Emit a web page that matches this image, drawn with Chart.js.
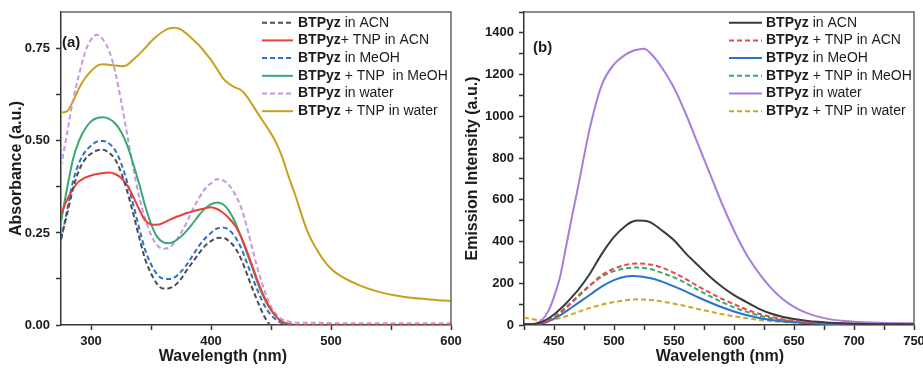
<!DOCTYPE html>
<html>
<head>
<meta charset="utf-8">
<script src="https://cdn.jsdelivr.net/npm/chart.js@4.4.0/dist/chart.umd.min.js"></script>
<style>
  body { margin: 0; background: #fff; }
  #wrap { position: relative; width: 923px; height: 368px; overflow: hidden; }
  #uv { position: absolute; left: 0; top: 0; }
  #fl { position: absolute; left: 460px; top: 0; }
</style>
</head>
<body>
<div id="wrap">
  <canvas id="uv" width="466" height="368"></canvas>
  <canvas id="fl" width="463" height="368"></canvas>
</div>
<script>
// ---- (a) absorbance data ----
const uvWavelength = [275,280,285,290,295,300,305,310,315,320,325,330,335,340,345,350,355,360,365,370,375,380,385,390,395,400,405,410,415,420,425,430,435,440,445,450,455,460,465,470,480,490,500,520,540,560,580,600];
const uvAcn      = [.235,.30,.37,.42,.45,.465,.474,.476,.468,.45,.415,.365,.305,.24,.18,.14,.112,.099,.10,.108,.125,.15,.172,.195,.215,.228,.236,.237,.228,.21,.18,.138,.095,.055,.02,0,0,0,0,0,0,0,0,0,0,0,0,0];
const uvAcnTnp   = [.30,.34,.37,.39,.40,.406,.41,.413,.414,.41,.40,.38,.35,.315,.285,.273,.272,.277,.285,.292,.298,.304,.309,.313,.317,.32,.315,.305,.29,.27,.24,.20,.155,.11,.072,.042,.02,.007,.002,0,0,0,0,0,0,0,0,0];
const uvMeoh     = [.23,.31,.39,.44,.47,.487,.498,.50,.493,.475,.44,.39,.33,.265,.205,.165,.138,.126,.125,.13,.145,.165,.19,.215,.235,.25,.262,.265,.258,.24,.21,.168,.125,.085,.05,.027,.012,.004,.001,0,0,0,0,0,0,0,0,0];
const uvMeohTnp  = [.28,.37,.45,.50,.532,.553,.562,.564,.56,.548,.525,.49,.44,.385,.325,.275,.24,.225,.222,.228,.24,.257,.277,.298,.316,.328,.333,.328,.31,.28,.24,.195,.15,.105,.068,.04,.02,.008,.002,0,0,0,0,0,0,0,0,0];
const uvWater    = [.43,.52,.61,.68,.74,.775,.788,.775,.745,.69,.61,.52,.43,.35,.29,.245,.217,.207,.21,.225,.25,.28,.315,.345,.37,.385,.396,.393,.38,.355,.32,.265,.20,.14,.09,.05,.027,.014,.009,.007,.006,.006,.005,.005,.005,.005,.005,.005];
const uvWaterTnp = [.577,.58,.607,.643,.67,.689,.704,.708,.707,.705,.703,.706,.72,.735,.752,.77,.785,.797,.805,.807,.802,.79,.775,.76,.74,.72,.695,.67,.655,.645,.638,.62,.595,.57,.545,.52,.49,.45,.40,.355,.257,.195,.153,.113,.09,.077,.07,.065];
const uvLabels = ['BTPyz in ACN', 'BTPyz+ TNP in ACN', 'BTPyz in MeOH', 'BTPyz + TNP  in MeOH', 'BTPyz in water', 'BTPyz + TNP in water'];
const uvXTicks = [300, 400, 500, 600];
const uvYTicks = [0, 0.25, 0.5, 0.75];

// ---- (b) emission data ----
const flWavelength = [425,430,435,440,445,450,455,460,465,470,480,490,500,510,515,520,525,530,540,550,560,570,580,590,600,610,620,630,640,650,660,670,680,700,720,750];
const flAcn      = [3,4,6,15,30,50,75,103,135,167,247,342,422,477,495,501,500,493,453,406,342,286,231,183,143,111,80,56,40,29,21,15,11,6,4,3];
const flAcnTnp   = [2,3,5,10,20,35,55,80,108,135,190,240,270,288,293,295,294,290,275,250,220,185,155,125,100,75,55,40,28,20,14,10,8,5,3,2];
const flMeoh     = [2,3,4,8,17,30,46,65,85,105,145,185,215,232,235,234,230,225,208,185,160,133,108,85,65,48,35,25,18,13,9,7,5,3,2,1];
const flMeohTnp  = [2,3,5,10,22,38,60,85,112,140,190,232,258,272,275,275,273,268,250,228,200,168,138,110,85,64,47,34,24,17,12,9,7,4,3,2];
const flWater    = [5,5,8,24,64,135,230,374,520,660,947,1153,1249,1297,1312,1320,1324,1305,1233,1137,1010,867,724,581,453,342,255,183,127,87,59,40,27,16,11,8];
const flWaterTnp = [35,30,25,22,23,27,33,42,52,62,82,98,110,119,122,123,122,120,113,102,90,77,64,52,42,33,25,19,15,12,10,9,8,7,6,5];
const flLabels = ['BTPyz in ACN', 'BTPyz + TNP in ACN', 'BTPyz in MeOH', 'BTPyz + TNP in MeOH', 'BTPyz in water', 'BTPyz + TNP in water'];
const flXTicks = [450, 500, 550, 600, 650, 700, 750];
const flYTicks = [0, 200, 400, 600, 800, 1000, 1200, 1400];

const FONT = '"Liberation Sans", Arial, sans-serif';
const INK = '#1c1c1c';
Chart.defaults.font.family = FONT;
Chart.defaults.color = INK;

function pts(xs, ys) {
  return xs.map((x, i) => ({ x: x, y: ys[i] }));
}

function line(label, xs, ys, color, dashed) {
  return {
    label: label,
    data: pts(xs, ys),
    borderColor: color,
    borderWidth: 2,
    borderDash: dashed ? [5, 3] : [],
    pointRadius: 0,
    fill: false,
    cubicInterpolationMode: 'monotone'
  };
}

function near(list, v) {
  return list.some(t => Math.abs(t - v) < 1e-6);
}

// frame, legend with bold name, panel tag and x title
const decor = {
  id: 'decor',
  afterDraw(chart, args, o) {
    const ctx = chart.ctx, a = chart.chartArea;
    ctx.save();
    ctx.strokeStyle = '#666';
    ctx.lineWidth = 1.5;
    ctx.beginPath();
    ctx.moveTo(a.left, a.top);
    ctx.lineTo(a.right, a.top);
    ctx.lineTo(a.right, a.bottom);
    ctx.stroke();

    chart.data.datasets.forEach((ds, i) => {
      const y = o.y0 + i * o.dy;
      ctx.strokeStyle = ds.borderColor;
      ctx.lineWidth = 2;
      ctx.setLineDash(ds.borderDash);
      ctx.beginPath();
      ctx.moveTo(o.x0, y);
      ctx.lineTo(o.x1, y);
      ctx.stroke();
      ctx.setLineDash([]);
      ctx.fillStyle = INK;
      ctx.textAlign = 'left';
      ctx.textBaseline = 'middle';
      ctx.font = 'bold 14px ' + FONT;
      ctx.fillText('BTPyz', o.tx, y);
      const w = ctx.measureText('BTPyz').width;
      ctx.font = '14px ' + FONT;
      ctx.fillText(ds.label.slice(5), o.tx + w, y);
    });

    ctx.font = 'bold 15px ' + FONT;
    ctx.fillText(o.panel, o.px, o.py);

    ctx.textAlign = 'center';
    ctx.font = 'bold 16px ' + FONT;
    ctx.fillText(o.xTitle, o.xtx, o.xty);
    ctx.restore();
  }
};

const axisLine = { display: true, color: '#333', width: 1.5 };
const tickGrid = { drawOnChartArea: false, drawTicks: true, tickLength: 5, tickColor: '#333', tickWidth: 1.5 };

// (a) absorbance
const uvChart = new Chart(document.getElementById('uv'), {
  type: 'line',
  data: {
    datasets: [
      line(uvLabels[0], uvWavelength, uvAcn, '#4d4d4d', true),
      line(uvLabels[1], uvWavelength, uvAcnTnp, '#e8413c', false),
      line(uvLabels[2], uvWavelength, uvMeoh, '#2f6fc6', true),
      line(uvLabels[3], uvWavelength, uvMeohTnp, '#3aa874', false),
      line(uvLabels[4], uvWavelength, uvWater, '#c497e0', true),
      line(uvLabels[5], uvWavelength, uvWaterTnp, '#c9a01c', false)
    ]
  },
  options: {
    responsive: false,
    animation: false,
    layout: { padding: { left: 0, top: 12, right: 15, bottom: 0 } },
    plugins: {
      legend: { display: false },
      tooltip: { enabled: false },
      decor: { x0: 262, x1: 293, tx: 298, y0: 22.7, dy: 17.7, panel: '(a)', px: 62, py: 43, xTitle: 'Wavelength (nm)', xtx: 223, xty: 357 }
    },
    scales: {
      x: {
        type: 'linear', min: 275, max: 600,
        border: axisLine, grid: tickGrid,
        ticks: {
          stepSize: 50, autoSkip: false, includeBounds: false, maxRotation: 0, padding: 4,
          font: { size: 13, weight: 'bold' },
          callback: v => near(uvXTicks, v) ? String(v) : ''
        },
        afterFit: s => { s.height = 43; s.paddingLeft = 0; s.paddingRight = 0; }
      },
      y: {
        min: 0, max: 0.85,
        border: axisLine, grid: tickGrid,
        title: { display: true, text: 'Absorbance (a.u.)', font: { size: 16, weight: 'bold' }, padding: { top: 7, bottom: 0 } },
        ticks: {
          stepSize: 0.125, autoSkip: false, includeBounds: false, padding: 6,
          font: { size: 13, weight: 'bold' },
          callback: v => near(uvYTicks, v) ? v.toFixed(2) : ''
        },
        afterFit: s => { s.width = 61; s.paddingTop = 0; s.paddingBottom = 0; }
      }
    }
  },
  plugins: [decor]
});

// (b) emission
const flChart = new Chart(document.getElementById('fl'), {
  type: 'line',
  data: {
    datasets: [
      line(flLabels[0], flWavelength, flAcn, '#3a3a3a', false),
      line(flLabels[1], flWavelength, flAcnTnp, '#e8484a', true),
      line(flLabels[2], flWavelength, flMeoh, '#2a72d0', false),
      line(flLabels[3], flWavelength, flMeohTnp, '#3aa870', true),
      line(flLabels[4], flWavelength, flWater, '#a87ddc', false),
      line(flLabels[5], flWavelength, flWaterTnp, '#d4a520', true)
    ]
  },
  options: {
    responsive: false,
    animation: false,
    layout: { padding: { left: 0, top: 12, right: 9, bottom: 0 } },
    plugins: {
      legend: { display: false },
      tooltip: { enabled: false },
      decor: { x0: 269, x1: 302, tx: 306, y0: 22.7, dy: 17.7, panel: '(b)', px: 73, py: 48, xTitle: 'Wavelength (nm)', xtx: 260, xty: 357 }
    },
    scales: {
      x: {
        type: 'linear', min: 425, max: 750,
        border: axisLine, grid: tickGrid,
        ticks: {
          stepSize: 25, autoSkip: false, includeBounds: false, maxRotation: 0, padding: 4,
          font: { size: 13, weight: 'bold' },
          callback: v => near(flXTicks, v) ? String(v) : ''
        },
        afterFit: s => { s.height = 43; s.paddingLeft = 0; s.paddingRight = 0; }
      },
      y: {
        min: 0, max: 1500,
        border: axisLine, grid: tickGrid,
        title: { display: true, text: 'Emission Intensity (a.u.)', font: { size: 16, weight: 'bold' }, padding: { top: 3, bottom: 0 } },
        ticks: {
          stepSize: 100, autoSkip: false, includeBounds: false, padding: 5,
          font: { size: 13, weight: 'bold' },
          callback: v => near(flYTicks, v) ? String(v) : ''
        },
        afterFit: s => { s.width = 64; s.paddingTop = 0; s.paddingBottom = 0; }
      }
    }
  },
  plugins: [decor]
});
</script>
</body>
</html>
